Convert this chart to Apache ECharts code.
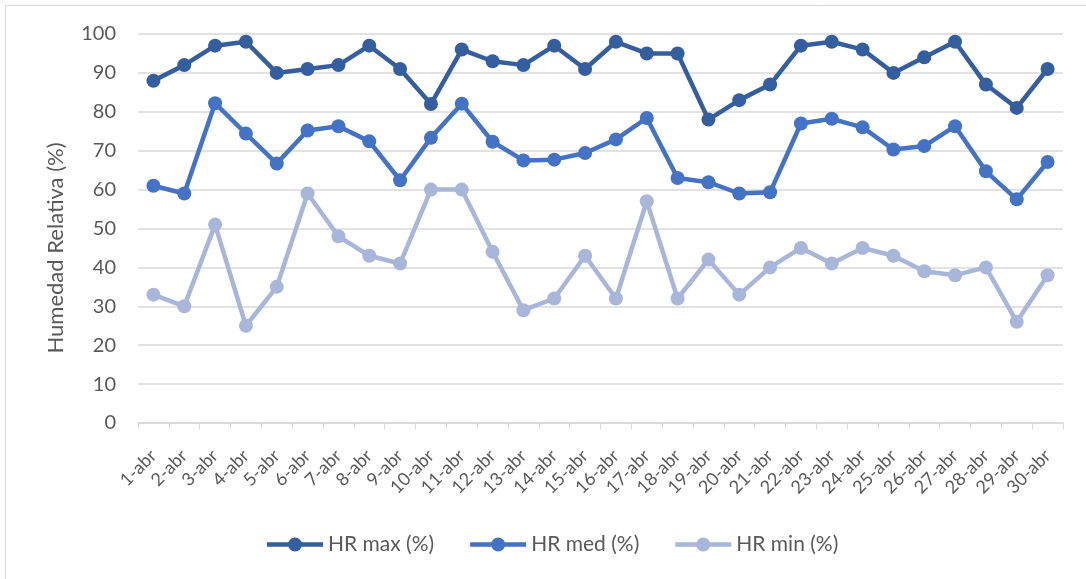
<!DOCTYPE html>
<html>
<head>
<meta charset="utf-8">
<script src="https://cdn.jsdelivr.net/npm/echarts@6/dist/echarts.min.js"></script>
<style>
  html, body { margin: 0; padding: 0; background: #fff; }
  #chart { width: 1086px; height: 579px; }
</style>
</head>
<body>
<div id="chart"></div>
<script>
// días de abril
const dias = ['1-abr','2-abr','3-abr','4-abr','5-abr','6-abr','7-abr','8-abr','9-abr','10-abr',
  '11-abr','12-abr','13-abr','14-abr','15-abr','16-abr','17-abr','18-abr','19-abr','20-abr',
  '21-abr','22-abr','23-abr','24-abr','25-abr','26-abr','27-abr','28-abr','29-abr','30-abr'];

const hrMax = [88,92,97,98,90,91,92,97,91,82,96,93,92,97,91,98,95,95,78,83,87,97,98,96,90,94,98,87,81,91];
const hrMed = [61,59,82.2,74.4,66.7,75.2,76.3,72.4,62.4,73.3,82.1,72.3,67.5,67.7,69.4,72.9,78.4,63,61.9,59,
  59.3,77,78.2,76,70.3,71.2,76.3,64.7,57.5,67.1];
const hrMin = [33,30,51,25,35,59,48,43,41,60,60,44,29,32,43,32,57,32,42,33,40,45,41,45,43,39,38,40,26,38];

const chart = echarts.init(document.getElementById('chart'));

// icono de leyenda: línea gruesa con círculo
const iconoLeyenda = 'path://M0,4.75H56V9.25H0Z M21,7A7,7 0 1,1 35,7A7,7 0 1,1 21,7Z';

function serie(name, data, color) {
  return {
    name: name,
    type: 'line',
    data: data,
    symbol: 'circle',
    symbolSize: 14,
    lineStyle: { color: color, width: 4.5 },
    itemStyle: { color: color },
    animation: false
  };
}

chart.setOption({
  textStyle: { fontFamily: 'Lato, "Liberation Sans", sans-serif' },
  graphic: [{
    type: 'rect',
    shape: { x: 5.5, y: 5.5, width: 1100, height: 600 },
    style: { fill: 'none', stroke: '#d9d9d9', lineWidth: 1 },
    silent: true
  }, {
    // título del eje Y
    type: 'text',
    x: 56,
    y: 248,
    rotation: Math.PI / 2,
    style: {
      text: 'Humedad Relativa (%)',
      fill: '#595959',
      font: '22px Lato, "Liberation Sans", sans-serif',
      align: 'center',
      verticalAlign: 'middle'
    },
    silent: true
  }],
  grid: { left: 138, right: 23, top: 34, bottom: 156 },
  legend: {
    top: 534,
    left: 267,
    padding: 0,
    itemWidth: 56,
    itemHeight: 14,
    itemGap: 36,
    icon: iconoLeyenda,
    textStyle: { color: '#595959', fontSize: 21 },
    data: ['HR max (%)', 'HR med (%)', 'HR min (%)']
  },
  xAxis: {
    type: 'category',
    data: dias,
    boundaryGap: true,
    axisLine: { lineStyle: { color: '#d9d9d9', width: 1.5 } },
    axisTick: { show: true, length: 6, lineStyle: { color: '#d9d9d9' } },
    axisLabel: { interval: 0, rotate: 45, color: '#595959', fontSize: 18, margin: 30 }
  },
  yAxis: {
    type: 'value',
    min: 0,
    max: 100,
    interval: 10,
    axisLine: { show: false },
    axisTick: { show: false },
    axisLabel: { color: '#595959', fontSize: 20, margin: 22 },
    splitLine: { lineStyle: { color: '#d9d9d9', width: 1.5 } }
  },
  series: [
    serie('HR max (%)', hrMax, '#355e9f'),
    serie('HR med (%)', hrMed, '#4472c4'),
    serie('HR min (%)', hrMin, '#a8b6da')
  ]
});
</script>
</body>
</html>
